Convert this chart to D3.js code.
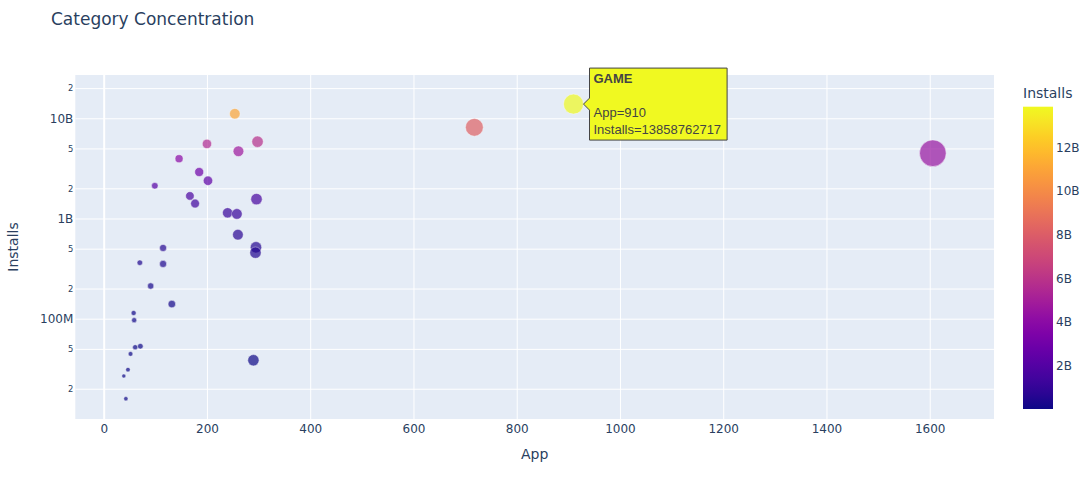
<!DOCTYPE html>
<html>
<head>
<meta charset="utf-8">
<script src="https://cdn.jsdelivr.net/npm/d3@7"></script>
<style>
  body { margin: 0; background: #fff; }
  svg { font-family: "DejaVu Sans", verdana, arial, sans-serif; }
</style>
</head>
<body>
<div id="chart"></div>
<script>
var categories = [
  'COMMUNICATION', 'SOCIAL', 'PHOTOGRAPHY', 'PRODUCTIVITY', 'VIDEO_PLAYERS',
  'TRAVEL_AND_LOCAL', 'NEWS_AND_MAGAZINES', 'ENTERTAINMENT', 'BOOKS_AND_REFERENCE', 'SHOPPING',
  'PERSONALIZATION', 'HEALTH_AND_FITNESS', 'SPORTS', 'LIFESTYLE', 'FINANCE',
  'BUSINESS', 'MAPS_AND_NAVIGATION', 'WEATHER', 'FOOD_AND_DRINK', 'EDUCATION',
  'DATING', 'ART_AND_DESIGN', 'HOUSE_AND_HOME', 'AUTO_AND_VEHICLES', 'LIBRARIES_AND_DEMO',
  'COMICS', 'PARENTING', 'BEAUTY', 'EVENTS', 'MEDICAL',
  'TOOLS', 'GAME', 'FAMILY'
];
var app_counts = [
  254, 200, 261, 298, 146,
  185, 202, 99, 167, 177,
  296, 240, 258, 260, 295,
  294, 115, 70, 115, 91,
  132, 58, 59, 61, 71,
  52, 47, 39, 43, 290,
  718, 910, 1606
];
var installs = [
  11100000000, 5550000000, 4690000000, 5840000000, 3950000000,
  2910000000, 2380000000, 2120000000, 1680000000, 1410000000,
  1560000000, 1140000000, 1110000000, 689000000, 516000000,
  456000000, 508000000, 362000000, 352000000, 212000000,
  140000000, 114000000, 96700000, 51900000, 53100000,
  44500000, 31000000, 26800000, 15900000, 38500000,
  8130000000, 13858762717, 4480000000
];
var x_ticks = [0, 200, 400, 600, 800, 1000, 1200, 1400, 1600];
var y_ticks = [2e7, 5e7, 1e8, 2e8, 5e8, 1e9, 2e9, 5e9, 1e10, 2e10];
var color_ticks = [2e9, 4e9, 6e9, 8e9, 10e9, 12e9];
var hover_category = 'GAME';

var chart_width = 1092;
var chart_height = 493;
var plot_left = 75.3, plot_right = 994, plot_top = 75, plot_bottom = 419;
var text_color = '#2a3f5f';
var font = '"DejaVu Sans", verdana, arial, sans-serif';

var dataset = categories.map(function(c, i) {
  return { category: c, app: app_counts[i], installs: installs[i] };
});

var svg = d3.select('#chart')
  .append('svg')
  .attr('width', chart_width)
  .attr('height', chart_height);

// scales
var x_scale = d3.scaleLinear()
  .domain([-55, 1724.5])
  .range([plot_left, plot_right]);

var y_scale = d3.scaleLog()
  .domain([Math.pow(10, 6.999), Math.pow(10, 10.432)])
  .range([plot_bottom, plot_top]);

var color_scale = d3.scaleSequential(d3.interpolatePlasma)
  .domain(d3.extent(installs));

var size_scale = d3.scaleSqrt()
  .domain([0, d3.max(app_counts)])
  .range([0, 13.3]);

// plot background
svg.append('rect')
  .attr('x', plot_left)
  .attr('y', plot_top)
  .attr('width', plot_right - plot_left)
  .attr('height', plot_bottom - plot_top)
  .attr('fill', '#E5ECF6');

// axes with gridlines
function format_y(d) {
  if (d >= 1e9) return (d / 1e9) + 'B';
  return (d / 1e6) + 'M';
}
function is_decade(d) {
  return Math.abs(Math.log10(d) - Math.round(Math.log10(d))) < 1e-9;
}

var x_axis = d3.axisBottom(x_scale)
  .tickValues(x_ticks)
  .tickSize(-(plot_bottom - plot_top))
  .tickPadding(5)
  .tickFormat(d3.format('d'));

var y_axis = d3.axisLeft(y_scale)
  .tickValues(y_ticks)
  .tickSize(-(plot_right - plot_left))
  .tickPadding(2)
  .tickFormat(function(d) {
    return is_decade(d) ? format_y(d) : String(Math.round(d / Math.pow(10, Math.floor(Math.log10(d)))));
  });

var gx = svg.append('g')
  .attr('transform', 'translate(0,' + plot_bottom + ')')
  .call(x_axis);

var gy = svg.append('g')
  .attr('transform', 'translate(' + plot_left + ',0)')
  .call(y_axis);

[gx, gy].forEach(function(g) {
  g.select('.domain').remove();
  g.selectAll('line').attr('stroke', '#fff').attr('stroke-width', 1);
  g.selectAll('text')
    .attr('fill', text_color)
    .style('font-size', '12px')
    .style('font-family', font);
});
gx.selectAll('.tick')
  .filter(function(d) { return d === 0; })
  .select('line')
  .attr('stroke-width', 2);
gy.selectAll('.tick text')
  .filter(function(d) { return !is_decade(d); })
  .style('font-size', '8.4px');

// markers
svg.append('g')
  .selectAll('circle')
  .data(dataset)
  .enter()
  .append('circle')
  .attr('cx', function(d) { return x_scale(d.app); })
  .attr('cy', function(d) { return y_scale(d.installs); })
  .attr('r', function(d) { return size_scale(d.app); })
  .attr('fill', function(d) { return color_scale(d.installs); })
  .attr('stroke', '#fff')
  .attr('stroke-width', 0.5)
  .attr('opacity', 0.7);

// titles
svg.append('text')
  .attr('x', 51)
  .attr('y', 24.5)
  .attr('fill', text_color)
  .style('font-size', '17px')
  .text('Category Concentration');

svg.append('text')
  .attr('x', (plot_left + plot_right) / 2)
  .attr('y', 459)
  .attr('text-anchor', 'middle')
  .attr('fill', text_color)
  .style('font-size', '14px')
  .text('App');

svg.append('text')
  .attr('transform', 'translate(18,' + ((plot_top + plot_bottom) / 2) + ') rotate(-90)')
  .attr('text-anchor', 'middle')
  .attr('fill', text_color)
  .style('font-size', '14px')
  .text('Installs');

// colorbar
var cb_x = 1023, cb_w = 30, cb_top = 106.7, cb_bottom = 409;
var defs = svg.append('defs');
var grad = defs.append('linearGradient')
  .attr('id', 'cb_grad')
  .attr('x1', 0).attr('y1', 1)
  .attr('x2', 0).attr('y2', 0);
d3.range(0, 1.0001, 0.05).forEach(function(t) {
  grad.append('stop')
    .attr('offset', t)
    .attr('stop-color', d3.interpolatePlasma(t));
});

svg.append('rect')
  .attr('x', cb_x)
  .attr('y', cb_top)
  .attr('width', cb_w)
  .attr('height', cb_bottom - cb_top)
  .attr('fill', 'url(#cb_grad)');

var cb_scale = d3.scaleLinear()
  .domain(color_scale.domain())
  .range([cb_bottom, cb_top]);

var cb_axis = d3.axisRight(cb_scale)
  .tickValues(color_ticks)
  .tickSize(0)
  .tickPadding(3)
  .tickFormat(function(d) { return (d / 1e9) + 'B'; });

var gc = svg.append('g')
  .attr('transform', 'translate(' + (cb_x + cb_w) + ',0)')
  .call(cb_axis);
gc.select('.domain').remove();
gc.selectAll('text')
  .attr('fill', text_color)
  .style('font-size', '12px')
  .style('font-family', font);

svg.append('text')
  .attr('x', cb_x)
  .attr('y', 98)
  .attr('fill', text_color)
  .style('font-size', '14px')
  .text('Installs');

// hover label for one point
var h = dataset[categories.indexOf(hover_category)];
var hx = x_scale(h.app), hy = y_scale(h.installs), hr = size_scale(h.app);
var tip_x = hx + hr;
var hover = svg.append('g')
  .attr('transform', 'translate(' + tip_x + ',' + hy + ')');

var hover_path = hover.append('path')
  .attr('fill', color_scale(h.installs))
  .attr('stroke', '#444')
  .attr('stroke-width', 1);

var hover_text = hover.append('text')
  .attr('fill', '#444')
  .style('font-family', '"Liberation Sans", Arial, sans-serif')
  .style('font-size', '13px');

var lines = [
  { t: h.category, bold: true, dy: -21 },
  { t: 'App=' + h.app, bold: false, dy: 13 },
  { t: 'Installs=' + h.installs, bold: false, dy: 30 }
];
lines.forEach(function(l) {
  hover_text.append('tspan')
    .attr('x', 10)
    .attr('y', l.dy)
    .style('font-weight', l.bold ? 'bold' : 'normal')
    .text(l.t);
});

var box_w = hover_text.node().getBBox().width + 10;
var half_h = 36;
hover_path.attr('d',
  'M0,0L6,-6V' + (-half_h) + 'H' + (6 + box_w) + 'V' + half_h + 'H6V6Z');
</script>
</body>
</html>
